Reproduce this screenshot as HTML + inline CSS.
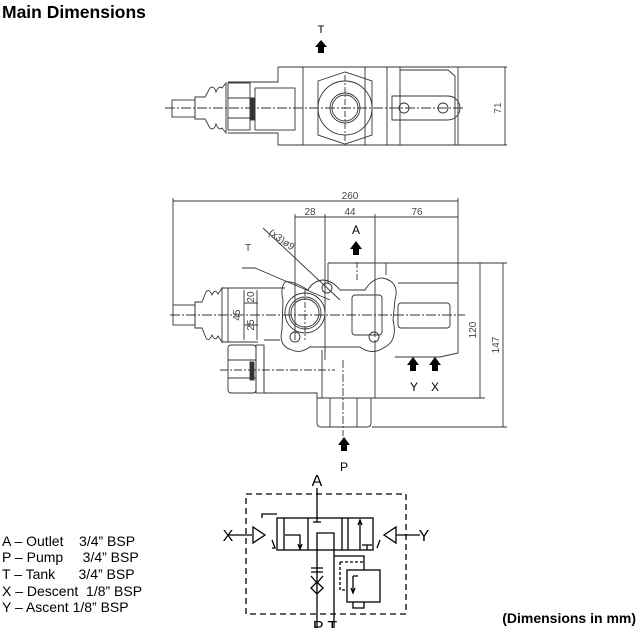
<!DOCTYPE html>
<html><head><meta charset="utf-8"><style>
html,body{margin:0;padding:0;background:#fff;}
svg{display:block;}
text{font-family:"Liberation Sans",sans-serif;}
</style></head><body>
<svg width="640" height="628" viewBox="0 0 640 628" xmlns="http://www.w3.org/2000/svg">
<text x="2" y="18" font-size="17.5" font-weight="bold">Main Dimensions</text>

<!-- TOP VIEW -->
<g stroke="#333" stroke-width="0.9" fill="none">
<line x1="165" y1="108" x2="465" y2="108" stroke-dasharray="10,2,2,2"/>
<path d="M278 67 H507 M278 67 V82 H228 M278 145 H458 M278 145 V133 H228"/>
<path d="M303 67 V145 M365 67 V145 M387 67 V145 M400 67 V145 M458 67 V145"/>
<path d="M400 70 H448 L455 76 V145"/>
<rect x="172" y="100" width="23" height="17"/>
<path d="M195 97 H205 L210 88 Q214 85 216 92 Q219 85 222 88 L226 83 V133 L222 128 Q219 131 216 124 Q214 131 210 128 L205 119 H195 Z"/>
<rect x="228" y="83" width="22" height="47"/>
<line x1="228" y1="98" x2="250" y2="98"/><line x1="228" y1="118" x2="250" y2="118"/>
<rect x="250" y="98" width="5" height="22" fill="#333"/>
<rect x="255" y="88" width="40" height="42"/>
<path d="M318 81 L345 72 L372 81 L372 135 L345 144 L318 135 Z"/>
<circle cx="345" cy="108" r="27"/>
<circle cx="345" cy="108" r="15"/><circle cx="345" cy="108" r="13"/>
<line x1="345" y1="75" x2="345" y2="141" stroke-dasharray="6,2,2,2"/>
<path d="M392 96 H448 A12 12 0 0 1 448 120 H392 Z"/>
<circle cx="404" cy="108" r="5"/><circle cx="443" cy="108" r="5"/>
<line x1="505" y1="67" x2="505" y2="145"/>
<line x1="458" y1="145" x2="507" y2="145"/>
</g>
<text x="501" y="108" font-size="10" fill="#555" transform="rotate(-90 501 108)" text-anchor="middle">71</text>
<text x="321" y="33" font-size="11" text-anchor="middle">T</text>
<path d="M321 40 L315 47 H318 V53 H324 V47 H327 Z" fill="#000"/>

<!-- MAIN VIEW -->
<g stroke="#333" stroke-width="0.9" fill="none">
<path d="M173 201 H458 M173 198 V305 M458 198 V283"/>
<path d="M295 217 H458 M295 214 V340 M325 214 V360 M375 214 V337"/>
<path d="M478 263 H485 M372 398 H485 M480 263 V398 M372 427 H507 M503 263 V427 M458 263 H507"/>
<line x1="357" y1="262" x2="357" y2="282" stroke-dasharray="6,2,2,2"/>
<line x1="170" y1="315" x2="465" y2="315" stroke-dasharray="10,2,2,2"/>
<path d="M328 263 H478 M328 263 V283 M386 263 V275"/>
<path d="M398 283 H458 V353 L440 357 H395"/>
<rect x="398" y="303" width="52" height="25" rx="3"/>
<path d="M285 282 Q280 288 283 300 L282 330 Q278 346 292 350 Q300 354 310 347 L360 347 Q372 356 385 347 Q398 340 393 320 L395 300 Q400 282 383 278 Q372 278 365 290 L340 290 Q332 280 322 280 Q312 282 308 290 Q292 280 285 282 Z"/>
<rect x="352" y="295" width="30" height="40" rx="3"/>
<circle cx="305" cy="313" r="20"/><circle cx="305" cy="313" r="16"/><circle cx="305" cy="313" r="14"/>
<circle cx="327" cy="288" r="5"/><circle cx="295" cy="337" r="5"/><circle cx="374" cy="337" r="5"/>
<line x1="305" y1="290" x2="305" y2="340" stroke-dasharray="6,2,2,2"/>
<rect x="173" y="305" width="22" height="20"/>
<path d="M195 302 H202 L206 292 Q209 288 212 295 Q215 288 218 294 L222 288 V342 L218 336 Q215 342 212 335 Q209 342 206 338 L202 328 H195 Z"/>
<path d="M222 288 H285 M222 342 H258"/>
<line x1="228" y1="288" x2="228" y2="342"/>
<path d="M244 290 V340 M257 290 V340 M244 303 H258 M244 325 H258"/>
<rect x="228" y="345" width="28" height="48" rx="3"/>
<line x1="228" y1="360" x2="256" y2="360"/><line x1="228" y1="378" x2="256" y2="378"/>
<rect x="250" y="362" width="4" height="18" fill="#333"/>
<rect x="256" y="345" width="8" height="48"/>
<path d="M264 340 H280 M264 345 V393 H317 V398 M322 350 V398 M375 340 V398 M317 398 H375"/>
<path d="M317 398 V423 Q317 427 321 427 H367 Q371 427 371 423 V398 M330 398 V427 M357 398 V427"/>
<line x1="220" y1="370" x2="335" y2="370" stroke-dasharray="8,2,2,2"/>
<line x1="343" y1="360" x2="343" y2="436" stroke-dasharray="8,2,2,2"/>
<path d="M255 268 L330 300 M255 268 H242 M263 228 L340 300"/>
</g>
<g font-size="10" fill="#444">
<text x="350" y="199" text-anchor="middle">260</text>
<text x="310" y="215" text-anchor="middle">28</text>
<text x="350" y="215" text-anchor="middle">44</text>
<text x="417" y="215" text-anchor="middle">76</text>
<text x="245" y="251">T</text>
<text x="268" y="234" transform="rotate(35 268 234)">(x3)ø9</text>
<text x="240" y="315" transform="rotate(-90 240 315)" text-anchor="middle">45</text>
<text x="254" y="297" transform="rotate(-90 254 297)" text-anchor="middle">20</text>
<text x="254" y="325" transform="rotate(-90 254 325)" text-anchor="middle">25</text>
<text x="476" y="330" transform="rotate(-90 476 330)" text-anchor="middle">120</text>
<text x="499" y="345" transform="rotate(-90 499 345)" text-anchor="middle">147</text>
</g>
<g font-size="12" text-anchor="middle">
<text x="356" y="234">A</text>
<text x="414" y="391">Y</text>
<text x="435" y="391">X</text>
<text x="344" y="471">P</text>
</g>
<g fill="#000">
<path d="M356 241 L350 249 H353 V255 H359 V249 H362 Z"/>
<path d="M413 357 L407 365 H410 V371 H416 V365 H419 Z"/>
<path d="M435 357 L429 365 H432 V371 H438 V365 H441 Z"/>
<path d="M344 437 L338 445 H341 V451 H347 V445 H350 Z"/>
</g>

<!-- SCHEMATIC -->
<g stroke="#000" stroke-width="1.3" fill="none">
<rect x="246" y="494" width="160" height="120" stroke-dasharray="6,4"/>
<rect x="277" y="518" width="96" height="32"/>
<path d="M284 518 V550 M308 518 V550 M342 518 V550 M348 518 V550"/>
<line x1="317" y1="488" x2="317" y2="522"/>
<line x1="313" y1="522" x2="321" y2="522"/>
<path d="M262 518 V514 H277"/>
<path d="M285 535 H300 V550" /><path d="M298 544 L300 549 L302 544"/>
<path d="M317 550 V533 H334 V550"/>
<path d="M360 550 V520"/><path d="M358 525 L360 520 L362 525"/>
<path d="M362 545 H372 M367 545 V550"/>
<path d="M229 535 H252 M253 527 V543 L265 535 Z"/>
<path d="M396 535 H420 M396 527 V543 L384 535 Z"/>
<path d="M272 540 L275 548 L272 548 M380 540 L377 548"/>
<line x1="317" y1="550" x2="317" y2="628"/>
<path d="M311 568 H323 M311 572 H323 M311 576 L317 583 L323 576"/>
<path d="M317 582 L311 588 L317 594 L323 588 Z"/>
<path d="M334 550 V556 H364 V570 M334 556 V628"/>
<rect x="347" y="570" width="33" height="32"/>
<path d="M353 602 V608 H364 V602"/>
<path d="M340 562 H363 M340 562 V590 H347" stroke-dasharray="3,2"/>
<path d="M353 576 H358 M353 576 V592"/><path d="M351 588 L353 593 L355 588"/>
</g>
<g font-size="16" text-anchor="middle">
<text x="317" y="486">A</text>
<text x="228" y="541">X</text>
<text x="424" y="541">Y</text>
<text x="325" y="632">P T</text>
</g>

<!-- LEGEND -->
<g font-size="14">
<text x="2" y="546">A – Outlet&#160;&#160;&#160; 3/4” BSP</text>
<text x="2" y="562">P – Pump&#160;&#160;&#160;&#160; 3/4” BSP</text>
<text x="2" y="579">T – Tank&#160;&#160;&#160;&#160;&#160; 3/4” BSP</text>
<text x="2" y="596">X – Descent&#160; 1/8” BSP</text>
<text x="2" y="612">Y – Ascent 1/8” BSP</text>
</g>
<text x="636" y="623" font-size="14" font-weight="bold" text-anchor="end">(Dimensions in mm)</text>
</svg>
</body></html>
